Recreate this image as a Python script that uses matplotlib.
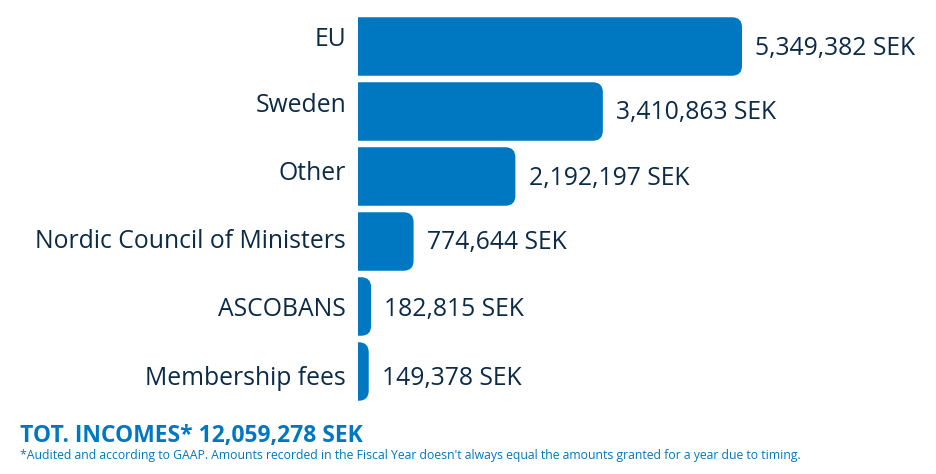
import numpy as np
import matplotlib.pyplot as plt
from matplotlib.path import Path
from matplotlib.patches import PathPatch

categories = ['EU', 'Sweden', 'Other', 'Nordic Council of Ministers', 'ASCOBANS', 'Membership fees']
amounts = [5349382, 3410863, 2192197, 774644, 182815, 149378]
total_label = 'TOT. INCOMES* 12,059,278 SEK'
footnote = ("*Audited and according to GAAP. Amounts recorded in the Fiscal Year doesn't always "
            "equal the amounts granted for a year due to timing.")

# small vertical nudges (px) seen in the original labels
cat_shift = [-7.5, -6, -3, 0, 3, 7]
val_shift = [2, 0.5, 2.5, 1.5, 3, 6.5]

blue = '#0078c1'
navy = '#0c2b48'
plt.rcParams['font.family'] = ['Open Sans', 'DejaVu Sans']

W, H = 937, 474
fig = plt.figure(figsize=(W / 100, H / 100), dpi=100)
ax_l, ax_r, ax_t, ax_b = 358, 937, 14, 404
ax = fig.add_axes([ax_l / W, (H - ax_b) / H, (ax_r - ax_l) / W, (ax_b - ax_t) / H])
xmax = amounts[0] * (ax_r - ax_l) / 384.0
ax.set_xlim(0, xmax)
ax.set_ylim(len(categories) - 0.5, -0.5)
ax.axis('off')

# corner radius in data units
r_px = 10
rx = r_px * xmax / (ax_r - ax_l)
ry = r_px * len(categories) / (ax_b - ax_t)
h = 0.9

for i, v in enumerate(amounts):
    y0, y1 = i - h / 2, i + h / 2
    cx = min(rx, v)
    verts = [(0, y0), (v - cx, y0), (v, y0), (v, y0 + ry),
             (v, y1 - ry), (v, y1), (v - cx, y1), (0, y1), (0, y0)]
    codes = [Path.MOVETO, Path.LINETO, Path.CURVE3, Path.CURVE3,
             Path.LINETO, Path.CURVE3, Path.CURVE3, Path.LINETO, Path.CLOSEPOLY]
    ax.add_patch(PathPatch(Path(verts, codes), facecolor=blue, edgecolor='none'))

    ax.annotate(categories[i], (0, i), xytext=(-8.6, -cat_shift[i] * 0.72),
                textcoords='offset points', ha='right', va='center',
                fontsize=17.8, color=navy, annotation_clip=False)
    ax.annotate(f'{v:,} SEK', (v, i), xytext=(9.5, -val_shift[i] * 0.72),
                textcoords='offset points', ha='left', va='center',
                fontsize=17.8, color=navy, annotation_clip=False)

fig.text(20 / W, 1 - 436 / H, total_label, fontsize=16.5, fontweight='bold',
         color=blue, ha='left', va='center')
fig.text(20 / W, 1 - 456 / H, footnote, fontsize=8.8, color=blue, ha='left', va='center')

fig.savefig('out.png', dpi=100)
